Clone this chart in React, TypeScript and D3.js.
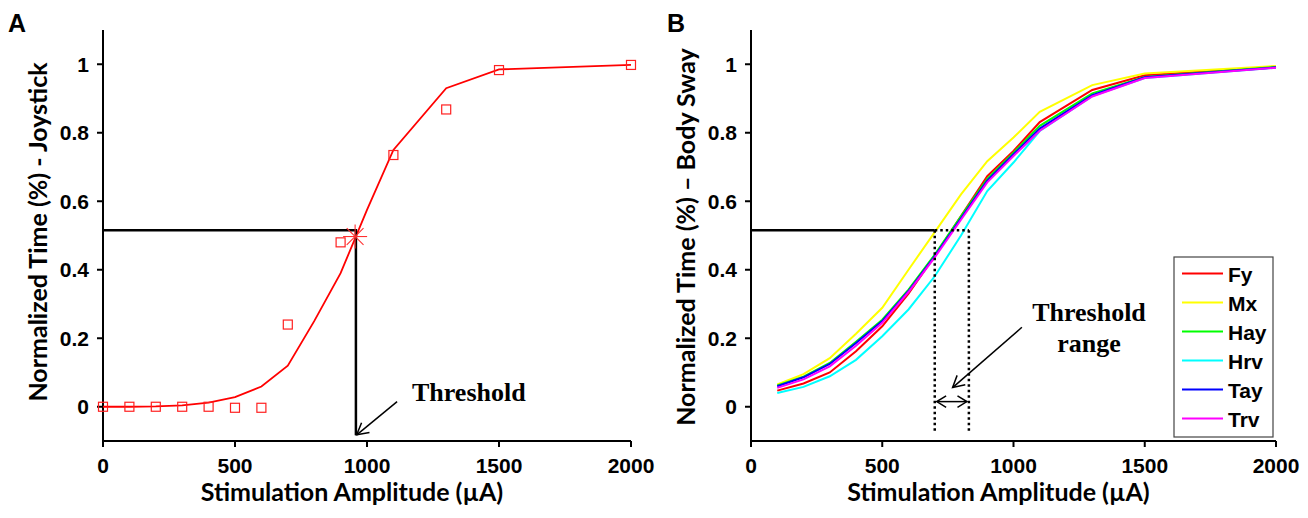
import React from "react";
import * as d3 from "d3";

// ---------- DATA ----------
const xTicks = [0, 500, 1000, 1500, 2000];
const yTicks = [0, 0.2, 0.4, 0.6, 0.8, 1];
const yTickLabels = ["0", "0.2", "0.4", "0.6", "0.8", "1"];

// Panel A: joystick
const fitAX = [0, 100, 200, 300, 400, 500, 600, 700, 800, 900, 1000, 1100, 1300, 1500, 2000];
const fitAY = [0, 0, 0.001, 0.004, 0.012, 0.028, 0.059, 0.12, 0.25, 0.39, 0.575, 0.75, 0.93, 0.985, 0.998];
const obsAX = [0, 100, 200, 300, 400, 500, 600, 700, 900, 1100, 1300, 1500, 2000];
const obsAY = [0, 0, 0, 0, 0, -0.003, -0.003, 0.24, 0.48, 0.735, 0.868, 0.983, 0.998];
const thresholdA = { x: 955, y: 0.497 };
const levelLine = 0.515;
const thresholdAX = 958;

// Panel B: body sway
const swayX = [100, 200, 300, 400, 500, 600, 700, 800, 900, 1000, 1100, 1300, 1500, 2000];
const seriesNames = ["Fy", "Mx", "Hay", "Hrv", "Tay", "Trv"];
const seriesColors = ["#ff0000", "#ffff00", "#00ff00", "#00ffff", "#0000ff", "#ff00ff"];
const fy = [0.047, 0.068, 0.1, 0.162, 0.235, 0.33, 0.44, 0.557, 0.673, 0.747, 0.831, 0.925, 0.968, 0.993];
const mx = [0.065, 0.095, 0.142, 0.213, 0.289, 0.4, 0.51, 0.62, 0.717, 0.786, 0.861, 0.939, 0.973, 0.995];
const hay = [0.062, 0.088, 0.128, 0.19, 0.254, 0.342, 0.444, 0.556, 0.665, 0.742, 0.82, 0.915, 0.963, 0.992];
const hrv = [0.04, 0.058, 0.089, 0.137, 0.206, 0.284, 0.381, 0.5, 0.63, 0.713, 0.805, 0.907, 0.96, 0.99];
const tay = [0.06, 0.086, 0.125, 0.186, 0.25, 0.338, 0.44, 0.55, 0.66, 0.737, 0.812, 0.91, 0.962, 0.991];
const trv = [0.055, 0.08, 0.118, 0.178, 0.245, 0.335, 0.436, 0.546, 0.655, 0.732, 0.806, 0.906, 0.96, 0.99];
const seriesValues = [fy, mx, hay, hrv, tay, trv];
const rangeB = [700, 830];

// ---------- LAYOUT ----------
const W = 1308;
const H = 518;
const yScale = d3.scaleLinear().domain([-0.1, 1.1]).range([441, 30]);
const xA = d3.scaleLinear().domain([0, 2000]).range([103, 631]);
const xB = d3.scaleLinear().domain([0, 2000]).range([751, 1276]);

const tickFont = "'Liberation Sans', Arial, sans-serif";
const titleFont = "Lato, 'Open Sans', sans-serif";
const serifFont = "'Liberation Serif', 'Times New Roman', serif";

function arrowHead(tip: [number, number], from: [number, number], size = 12, spread = 0.45) {
  const ang = Math.atan2(from[1] - tip[1], from[0] - tip[0]);
  const p1 = [tip[0] + size * Math.cos(ang + spread), tip[1] + size * Math.sin(ang + spread)];
  const p2 = [tip[0] + size * Math.cos(ang - spread), tip[1] + size * Math.sin(ang - spread)];
  return `M${p1[0]},${p1[1]}L${tip[0]},${tip[1]}L${p2[0]},${p2[1]}`;
}

function Axes({
  x,
  yTitle,
  yTitleCenter,
  label,
  labelX,
}: {
  x: d3.ScaleLinear<number, number>;
  yTitle: string;
  yTitleCenter: number;
  label: string;
  labelX: number;
}) {
  const [x0, x1] = x.range();
  const [yb, yt] = yScale.range();
  return (
    <g>
      <line x1={x0} x2={x0} y1={yt} y2={yb} stroke="#000" strokeWidth={2} />
      <line x1={x0} x2={x1} y1={yb} y2={yb} stroke="#000" strokeWidth={2} />
      {xTicks.map((t) => (
        <g key={"x" + t}>
          <line x1={x(t)} x2={x(t)} y1={yb} y2={yb + 6} stroke="#000" strokeWidth={2} />
          <text x={x(t)} y={yb + 32} textAnchor="middle" fontFamily={tickFont} fontWeight="bold" fontSize={21}>
            {t}
          </text>
        </g>
      ))}
      {yTicks.map((t, i) => (
        <g key={"y" + t}>
          <line x1={x0 - 6} x2={x0} y1={yScale(t)} y2={yScale(t)} stroke="#000" strokeWidth={2} />
          <text x={x0 - 14} y={yScale(t) + 7.5} textAnchor="end" fontFamily={tickFont} fontWeight="bold" fontSize={21}>
            {yTickLabels[i]}
          </text>
        </g>
      ))}
      <text
        x={(x0 + x1) / 2 - 15}
        y={501}
        textAnchor="middle"
        fontFamily={titleFont}
        fontWeight="bold"
        fontSize={25}
      >
        Stimulation Amplitude (µA)
      </text>
      <text
        transform={`translate(${x0 - 56},${yTitleCenter}) rotate(-90)`}
        textAnchor="middle"
        fontFamily={titleFont}
        fontWeight="bold"
        fontSize={25}
      >
        {yTitle}
      </text>
      <text x={labelX} y={32} fontFamily="'Liberation Sans', Arial, sans-serif" fontWeight="bold" fontSize={25}>
        {label}
      </text>
    </g>
  );
}

export default function App() {
  const lineA = d3
    .line<number>()
    .x((_, i) => xA(fitAX[i]))
    .y((d) => yScale(d));
  const lineB = (vals: number[]) =>
    d3
      .line<number>()
      .x((_, i) => xB(swayX[i]))
      .y((d) => yScale(d))(vals);

  const sx = xA(thresholdA.x);
  const sy = yScale(thresholdA.y);
  const starR = 12;

  // annotation coordinates in data units
  const arrowATip: [number, number] = [xA(thresholdAX + 3), yScale(-0.082)];
  const arrowAFrom: [number, number] = [xA(1114), yScale(0.015)];
  const arrowBTip: [number, number] = [xB(768), yScale(0.056)];
  const arrowBFrom: [number, number] = [xB(1032), yScale(0.232)];
  const rL = xB(rangeB[0]);
  const rR = xB(rangeB[1]);
  const dY = yScale(0.015);

  const legX = 1174;
  const legY = 257;

  return (
    <svg
      width={W}
      height={H}
      style={{ position: "absolute", left: 0, top: 0, background: "#fff" }}
    >
      <rect width={W} height={H} fill="#fff" />
      {/* ---------------- Panel A ---------------- */}
      <Axes x={xA} yTitle="Normalized Time (%) - Joystick" yTitleCenter={232} label="A" labelX={8} />
      <path d={lineA(fitAY) || ""} fill="none" stroke="#ff0000" strokeWidth={1.8} />
      {obsAY.map((v, i) => (
        <rect
          key={"sq" + i}
          x={xA(obsAX[i]) - 4.5}
          y={yScale(v) - 4.5}
          width={9}
          height={9}
          fill="none"
          stroke="#ff2020"
          strokeWidth={1.2}
        />
      ))}
      {/* threshold lines */}
      <path
        d={`M${xA(0)},${yScale(levelLine)}H${xA(thresholdAX)}V${yScale(-0.083)}`}
        fill="none"
        stroke="#000"
        strokeWidth={2.5}
      />
      {/* star marker */}
      <g stroke="#ff3030" strokeWidth={1.1}>
        <line x1={sx - starR} x2={sx + starR} y1={sy} y2={sy} />
        <line x1={sx} x2={sx} y1={sy - starR} y2={sy + starR} />
        <line x1={sx - starR * 0.7} x2={sx + starR * 0.7} y1={sy - starR * 0.7} y2={sy + starR * 0.7} />
        <line x1={sx - starR * 0.7} x2={sx + starR * 0.7} y1={sy + starR * 0.7} y2={sy - starR * 0.7} />
      </g>
      <line x1={arrowAFrom[0]} y1={arrowAFrom[1]} x2={arrowATip[0]} y2={arrowATip[1]} stroke="#000" strokeWidth={1.5} />
      <path d={arrowHead(arrowATip, arrowAFrom, 13, 0.5)} fill="none" stroke="#000" strokeWidth={1.5} />
      <text x={412} y={401} fontFamily={serifFont} fontWeight="bold" fontSize={26}>
        Threshold
      </text>

      {/* ---------------- Panel B ---------------- */}
      <Axes x={xB} yTitle="Normalized Time (%) – Body Sway" yTitleCenter={237} label="B" labelX={667} />
      {seriesValues.map((vals, i) => (
        <path key={seriesNames[i]} d={lineB(vals) || ""} fill="none" stroke={seriesColors[i]} strokeWidth={2} />
      ))}
      <line x1={xB(0)} x2={rL} y1={yScale(levelLine)} y2={yScale(levelLine)} stroke="#000" strokeWidth={2.5} />
      <g stroke="#000" strokeWidth={2.5} strokeDasharray="2.5,3" fill="none">
        <line x1={rL} x2={rR} y1={yScale(levelLine)} y2={yScale(levelLine)} />
        <line x1={rL} x2={rL} y1={yScale(levelLine)} y2={yScale(-0.075)} />
        <line x1={rR} x2={rR} y1={yScale(levelLine)} y2={yScale(-0.075)} />
      </g>
      {/* double arrow */}
      <line x1={rL + 2} x2={rR - 2} y1={dY} y2={dY} stroke="#000" strokeWidth={1.5} />
      <path d={arrowHead([rL + 2, dY], [rR, dY], 11, 0.55)} fill="none" stroke="#000" strokeWidth={1.5} />
      <path d={arrowHead([rR - 2, dY], [rL, dY], 11, 0.55)} fill="none" stroke="#000" strokeWidth={1.5} />
      <line x1={arrowBFrom[0]} y1={arrowBFrom[1]} x2={arrowBTip[0]} y2={arrowBTip[1]} stroke="#000" strokeWidth={1.5} />
      <path d={arrowHead(arrowBTip, arrowBFrom, 13, 0.5)} fill="none" stroke="#000" strokeWidth={1.5} />
      <text x={1089} y={321} textAnchor="middle" fontFamily={serifFont} fontWeight="bold" fontSize={26}>
        Threshold
      </text>
      <text x={1089} y={352} textAnchor="middle" fontFamily={serifFont} fontWeight="bold" fontSize={26}>
        range
      </text>

      {/* legend */}
      <rect x={legX} y={legY} width={99} height={180} fill="#fff" stroke="#444" strokeWidth={1.2} />
      {seriesNames.map((n, i) => {
        const ly = legY + 16.5 + i * 29;
        return (
          <g key={"leg" + n}>
            <line x1={legX + 8} x2={legX + 49} y1={ly} y2={ly} stroke={seriesColors[i]} strokeWidth={2} />
            <text x={legX + 54} y={ly + 8} fontFamily={tickFont} fontWeight="bold" fontSize={21}>
              {n}
            </text>
          </g>
        );
      })}
    </svg>
  );
}
